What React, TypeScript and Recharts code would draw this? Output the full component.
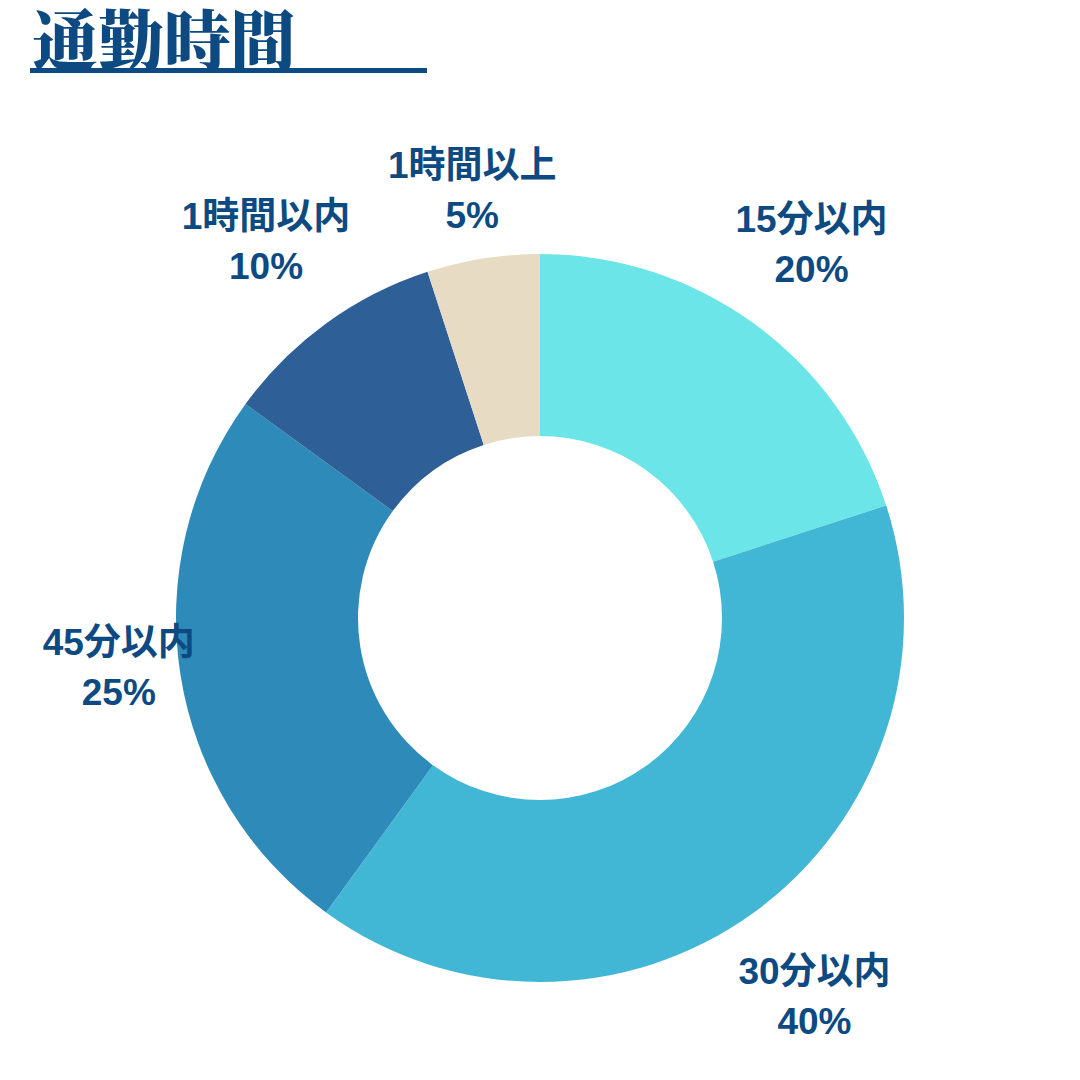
import { PieChart, Pie, Cell } from "recharts";

const categories = ["15分以内", "30分以内", "45分以内", "1時間以内", "1時間以上"];
const shares = [20, 40, 25, 10, 5];
const colors = ["#6CE5E8", "#42B7D5", "#2E8BB9", "#2F5F97", "#E8DBC3"];

const data = categories.map((name, i) => ({ name, value: shares[i] }));

const ink = "#0E4A82";
const labelFont = "'Liberation Sans', 'Noto Sans CJK JP', sans-serif";
// hand-tuned label placement (distance from centre, small angle turn), like the designer's manual layout
const labelPlace = [
  { r: 462, turn: 0 },
  { r: 467, turn: 0 },
  { r: 424, turn: -2.4 },
  { r: 466, turn: 0 },
  { r: 433, turn: 0 },
];

const RAD = Math.PI / 180;

function SliceLabel(props: any) {
  const { cx, cy, midAngle, index, name, value } = props;
  const place = labelPlace[index] ?? { r: 460, turn: 0 };
  const a = midAngle + place.turn;
  const x = cx + place.r * Math.cos(-a * RAD);
  const y = cy + place.r * Math.sin(-a * RAD);
  return (
    <text x={x} y={y} fill={ink} textAnchor="middle" fontFamily={labelFont} fontWeight={700} fontSize={37}>
      <tspan x={x} dy={-12}>{name}</tspan>
      <tspan x={x} dy={50}>{value}%</tspan>
    </text>
  );
}

export default function App() {
  return (
    <div style={{ position: "absolute", left: 0, top: 0, width: 1080, height: 1080, background: "#fff" }}>
      <div
        style={{
          position: "absolute",
          left: 30,
          top: 0,
          width: 395,
          height: 68,
          borderBottom: `5px solid ${ink}`,
          color: ink,
          fontFamily: "'Noto Serif CJK JP', 'Noto Sans CJK JP', serif",
          fontWeight: 900,
          fontSize: 66,
          lineHeight: "74px",
          paddingLeft: 2,
          whiteSpace: "nowrap",
          boxSizing: "content-box",
        }}
      >
        通勤時間
      </div>
      <PieChart
        width={1080}
        height={1080}
        margin={{ top: 0, right: 0, bottom: 0, left: 0 }}
        style={{ position: "absolute", left: 0, top: 0 }}
      >
        <Pie
          data={data}
          dataKey="value"
          nameKey="name"
          cx={540}
          cy={618}
          innerRadius={182}
          outerRadius={364}
          startAngle={90}
          endAngle={-270}
          stroke="none"
          label={SliceLabel}
          labelLine={false}
          isAnimationActive={false}
        >
          {data.map((d, i) => (
            <Cell key={d.name} fill={colors[i]} />
          ))}
        </Pie>
      </PieChart>
    </div>
  );
}
